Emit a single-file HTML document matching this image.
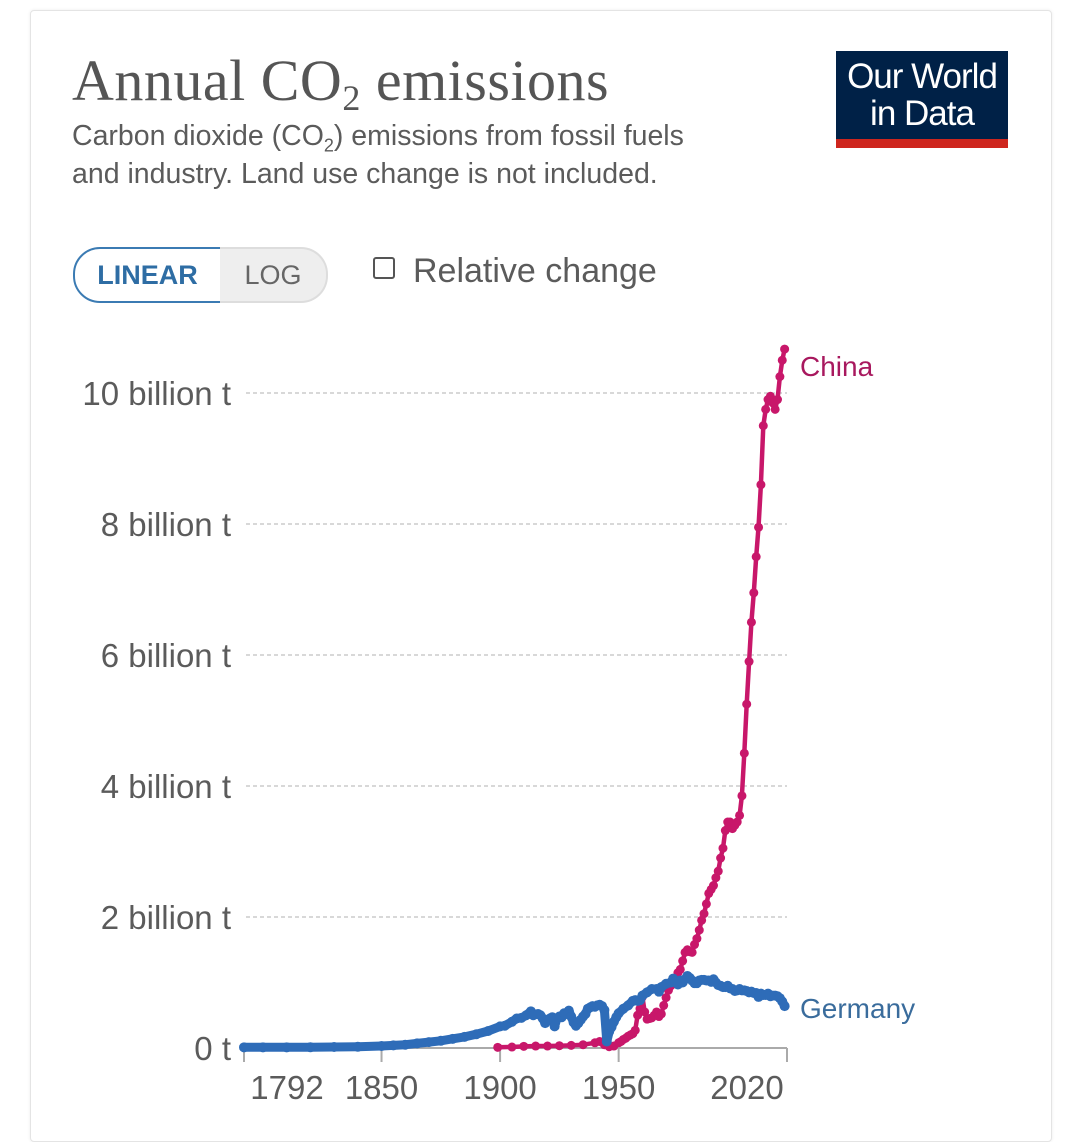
<!DOCTYPE html>
<html><head><meta charset="utf-8">
<style>
html,body{margin:0;padding:0;background:#fff;}
body{width:1080px;height:1121px;position:relative;overflow:hidden;font-family:"Liberation Sans",sans-serif;}
#card{position:absolute;left:30px;top:10px;width:1020px;height:1130px;border:1px solid #e4e4e4;border-radius:4px;box-shadow:0 0 3px rgba(0,0,0,0.08);}
#title{position:absolute;left:72px;top:46px;font-family:"Liberation Serif",serif;font-size:58px;color:#555;letter-spacing:0.5px;line-height:70px;}
#title sub{font-size:36px;vertical-align:-10px;line-height:0;}
#subtitle{position:absolute;left:72px;top:117px;font-size:28.5px;line-height:38px;color:#5b5b5b;width:720px;}
#subtitle sub{font-size:18px;line-height:0;}
#logo{position:absolute;left:836px;top:51px;width:172px;height:97px;background:#002147;color:#fff;text-align:center;font-size:35px;line-height:37px;letter-spacing:-1px;}
#logo .t{padding-top:7px;}
#logo .bar{position:absolute;left:0;bottom:0;width:100%;height:9px;background:#ce261e;}
#linear{position:absolute;left:73px;top:247px;width:145px;height:52px;border:2px solid #3b7bb3;border-radius:27px 0 0 27px;color:#2e6da4;font-size:27px;font-weight:bold;text-align:center;line-height:52px;box-sizing:content-box;}
#log{position:absolute;left:220px;top:247px;width:106px;height:52px;border:2px solid #ddd;border-left:none;border-radius:0 27px 27px 0;background:#eee;color:#666;font-size:27px;text-align:center;line-height:52px;}
#rel{position:absolute;left:373px;top:252px;font-size:34px;color:#5b5b5b;}
#rel .box{display:inline-block;width:18px;height:18px;border:2px solid #555;border-radius:3px;margin-right:18px;vertical-align:3px;}
svg{position:absolute;left:0;top:0;}
</style></head><body>
<div id="card"></div>
<div id="title">Annual CO<sub>2</sub> emissions</div>
<div id="subtitle">Carbon dioxide (CO<sub>2</sub>) emissions from fossil fuels<br>and industry. Land use change is not included.</div>
<div id="logo"><div class="t">Our World<br>in Data</div><div class="bar"></div></div>
<div id="linear">LINEAR</div>
<div id="log">LOG</div>
<div id="rel"><span class="box"></span>Relative change</div>
<svg id="chart" width="1080" height="1121"></svg>
<script>
const yTicks=[0,2,4,6,8,10];
const yTickLabels=["0 t","2 billion t","4 billion t","6 billion t","8 billion t","10 billion t"];
const xTicks=[1792,1850,1900,1950,2021];
const xTickLabels=["1792","1850","1900","1950","2020"];
const chinaYears=[1899,1905,1910,1915,1920,1925,1930,1935,1940,1942,1944,1946,1948,1950,1951,1952,1953,1954,1955,1956,1957,1958,1959,1960,1961,1962,1963,1964,1965,1966,1967,1968,1969,1970,1971,1972,1973,1974,1975,1976,1977,1978,1979,1980,1981,1982,1983,1984,1985,1986,1987,1988,1989,1990,1991,1992,1993,1994,1995,1996,1997,1998,1999,2000,2001,2002,2003,2004,2005,2006,2007,2008,2009,2010,2011,2012,2013,2014,2015,2016,2017,2018,2019,2020];
const chinaValues=[0.01,0.015,0.025,0.03,0.03,0.035,0.04,0.05,0.08,0.1,0.05,0.02,0.03,0.08,0.1,0.13,0.15,0.18,0.2,0.22,0.27,0.5,0.6,0.78,0.55,0.44,0.45,0.46,0.5,0.55,0.48,0.52,0.65,0.77,0.88,0.95,1.0,1.02,1.15,1.2,1.33,1.46,1.5,1.47,1.46,1.58,1.67,1.8,1.95,2.05,2.2,2.36,2.42,2.48,2.6,2.7,2.9,3.05,3.32,3.45,3.45,3.35,3.4,3.45,3.55,3.85,4.5,5.25,5.9,6.5,6.95,7.5,7.95,8.6,9.5,9.75,9.9,9.95,9.85,9.75,9.9,10.25,10.5,10.67];
const germanyYears=[1792,1800,1810,1820,1830,1840,1850,1855,1860,1865,1870,1875,1880,1885,1890,1895,1900,1902,1905,1907,1909,1911,1913,1914,1916,1917,1918,1919,1920,1921,1922,1923,1924,1925,1926,1927,1928,1929,1930,1931,1932,1933,1934,1935,1936,1937,1938,1939,1940,1941,1942,1943,1944,1945,1946,1947,1948,1949,1950,1952,1954,1956,1957,1958,1959,1960,1962,1964,1966,1967,1968,1970,1972,1973,1974,1975,1976,1977,1978,1979,1980,1981,1982,1983,1984,1985,1986,1987,1988,1989,1990,1991,1992,1993,1994,1995,1996,1997,1998,1999,2000,2001,2002,2003,2004,2005,2006,2007,2008,2009,2010,2011,2012,2013,2014,2015,2016,2017,2018,2019,2020];
const germanyValues=[0.01,0.01,0.01,0.012,0.015,0.02,0.03,0.04,0.05,0.07,0.09,0.11,0.14,0.17,0.21,0.26,0.33,0.34,0.4,0.45,0.46,0.5,0.56,0.5,0.52,0.5,0.45,0.38,0.42,0.45,0.47,0.33,0.45,0.48,0.47,0.53,0.52,0.57,0.48,0.39,0.34,0.38,0.43,0.48,0.52,0.6,0.62,0.64,0.63,0.65,0.66,0.64,0.58,0.1,0.25,0.32,0.4,0.47,0.53,0.6,0.65,0.72,0.73,0.72,0.73,0.8,0.85,0.9,0.9,0.86,0.93,0.98,1.0,1.06,1.02,0.97,1.03,1.0,1.05,1.1,1.07,1.03,0.99,0.99,1.03,1.04,1.04,1.03,1.03,1.01,1.05,1.0,0.96,0.95,0.93,0.93,0.95,0.91,0.9,0.87,0.88,0.9,0.88,0.88,0.87,0.85,0.86,0.84,0.84,0.78,0.83,0.81,0.81,0.83,0.79,0.8,0.8,0.79,0.76,0.71,0.64];

const NS="http://www.w3.org/2000/svg";
const svg=document.getElementById('chart');
const X0=244,X1=787,Y0=1048,Y1=393;
function xs(yr){return X0+(yr-1792)*(X1-X0)/(2021-1792);}
function ys(v){return Y0-v*(Y0-Y1)/10;}
function mk(tag,attrs){const e=document.createElementNS(NS,tag);for(const k in attrs)e.setAttribute(k,attrs[k]);svg.appendChild(e);return e;}

yTicks.forEach((t,i)=>{
  if(t>0){
    const g=mk('line',{x1:246,x2:X1,y1:ys(t),y2:ys(t),stroke:'#ccc','stroke-width':1.5,'stroke-dasharray':'4,3'});
    
    
  }
  const l=mk('text',{x:231,y:ys(t)+12,'text-anchor':'end','font-size':33,fill:'#5b5b5b','font-family':'Liberation Sans, sans-serif'});
  l.textContent=yTickLabels[i];
  
  
});
const ax=mk('line',{x1:X0,x2:X1,y1:Y0,y2:Y0,stroke:'#aaa','stroke-width':2});


xTicks.forEach((t,i)=>{
  const tk=mk('line',{x1:xs(t),x2:xs(t),y1:Y0,y2:Y0+14,stroke:'#aaa','stroke-width':2});
  
  
  let tx=xs(t);
  if(i===0)tx+=43;
  if(i===xTicks.length-1)tx-=40;
  const l=mk('text',{x:tx,y:1099,'text-anchor':'middle','font-size':33,fill:'#5b5b5b','font-family':'Liberation Sans, sans-serif'});
  l.textContent=xTickLabels[i];
  
  
});

function series(years,vals,color,name,lw,r){
  const d=years.map((y,i)=>(i?'L':'M')+xs(y).toFixed(1)+','+ys(vals[i]).toFixed(1)).join('');
  const p=mk('path',{d:d,fill:'none',stroke:color,'stroke-width':lw,'stroke-linejoin':'round','stroke-linecap':'round'});
  
  
  years.forEach((y,i)=>{
    const c=mk('circle',{cx:xs(y),cy:ys(vals[i]),r:r,fill:color});
    
    
  });
}
series(chinaYears,chinaValues,'#c8176a','china',4.5,4.5);
series(germanyYears,germanyValues,'#2e6cb8','germany',9,5);

const cl=mk('text',{x:800,y:376,'font-size':28,fill:'#a8185e','font-family':'Liberation Sans, sans-serif'});
cl.textContent='China';


const gl=mk('text',{x:800,y:1018,'font-size':28,fill:'#3a6c9c','font-family':'Liberation Sans, sans-serif'});
gl.textContent='Germany';


</script>
</body></html>
